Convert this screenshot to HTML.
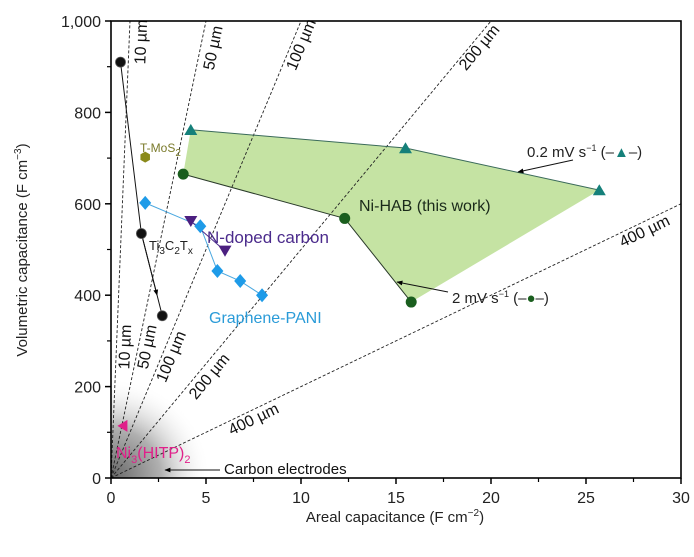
<!DOCTYPE html>
<html><head><meta charset="utf-8"><style>
body{margin:0;background:#fff}
svg text{font-family:"Liberation Sans",sans-serif}
</style></head><body>
<svg id="c" width="694" height="552" viewBox="0 0 694 552" xmlns="http://www.w3.org/2000/svg">
<defs>
<radialGradient id="gr" cx="111" cy="478" r="100" gradientUnits="userSpaceOnUse">
<stop offset="0" stop-color="#666"/><stop offset="0.5" stop-color="#b0b0b0"/><stop offset="1" stop-color="#fff" stop-opacity="0"/></radialGradient>
<marker id="ah" viewBox="0 0 10 10" refX="9" refY="5" markerWidth="8" markerHeight="6" orient="auto"><path d="M0,1L10,5L0,9z" fill="#000"/></marker>
</defs>
<g id="plot"></g>
</svg>
<script>
const xTicks=[0,5,10,15,20,25,30];
const yTicks=[0,200,400,600,800,1000];
const thickLabels=["10 µm","50 µm","100 µm","200 µm","400 µm"];
const thicknessUm=[10,50,100,200,400];
const lineSlopes=[1000,200,100,50,20];
const hab02X=[4.2,15.5,25.7];
const hab02Y=[762,722,630];
const hab2X=[3.8,12.3,15.8];
const hab2Y=[665,568,385];
const tiX=[0.5,1.6,2.7];
const tiY=[910,535,355];
const paniX=[1.8,4.7,5.6,6.8,7.95];
const paniY=[602,551,453,431,400];
const ndX=[4.2,6.0];
const ndY=[562,497];
const mosX=[1.8];const mosY=[702];
const hitpX=[0.6];const hitpY=[114];

const X0=111,Y0=478,SX=19,SY=0.457;
const xs=v=>X0+v*SX, ys=v=>Y0-v*SY;
const NS="http://www.w3.org/2000/svg";
const g=document.getElementById('plot');
function mk(t,a,txt){const e=document.createElementNS(NS,t);for(const k in a)e.setAttribute(k,a[k]);if(txt!=null)e.textContent=txt;g.appendChild(e);return e;}

let gz=mk('path',{d:`M${X0},${Y0}L${X0},${Y0-100}A100,100 0 0 1 ${X0+100},${Y0}Z`,fill:'url(#gr)'});



let pts=[];for(let i=0;i<3;i++)pts.push(xs(hab02X[i])+','+ys(hab02Y[i]));
for(let i=2;i>=0;i--)pts.push(xs(hab2X[i])+','+ys(hab2Y[i]));
let poly=mk('polygon',{points:pts.join(' '),fill:'#c5e3a3'});



const clipR=xs(30), clipT=ys(1000);
thicknessUm.forEach((t,i)=>{
  const k=lineSlopes[i];
  let ax=30, vy=k*30; if(vy>1000){vy=1000;ax=1000/k;}
  let l=mk('line',{x1:X0,y1:Y0,x2:xs(ax),y2:ys(vy),stroke:'#222','stroke-width':0.9,'stroke-dasharray':'3,2'});
  
  
});
const ang=lineSlopes.map(k=>-Math.atan(k*SY/SX)*180/Math.PI);
const topPos=[[142,42],[214,48],[302,45],[480,48],[645,232]];
const botPos=[[126,347],[148,347],[172,357],[210,377],[254,420]];
[topPos,botPos].forEach((P,j)=>P.forEach((p,i)=>{
  let tx=mk('text',{x:p[0],y:p[1],'font-size':16,'text-anchor':'middle','dominant-baseline':'middle',fill:'#111',transform:`rotate(${ang[i]} ${p[0]} ${p[1]})`},thickLabels[i]);
  
  
}));

let fr=mk('rect',{x:X0,y:clipT,width:clipR-X0,height:Y0-clipT,fill:'none',stroke:'#000','stroke-width':1.6});


xTicks.forEach(v=>{
  mk('line',{x1:xs(v),y1:Y0,x2:xs(v),y2:Y0+6,stroke:'#000','stroke-width':1.5});
  if(v<30)mk('line',{x1:xs(v+2.5),y1:Y0,x2:xs(v+2.5),y2:Y0+4,stroke:'#000','stroke-width':1.2});
  let t=mk('text',{x:xs(v),y:Y0+25,'font-size':16,'text-anchor':'middle',fill:'#222'},v);
  
  
});
yTicks.forEach(v=>{
  mk('line',{x1:X0-6,y1:ys(v),x2:X0,y2:ys(v),stroke:'#000','stroke-width':1.5});
  if(v<1000)mk('line',{x1:X0-4,y1:ys(v+100),x2:X0,y2:ys(v+100),stroke:'#000','stroke-width':1.2});
  let t=mk('text',{x:X0-10,y:ys(v)+6,'font-size':16,'text-anchor':'end',fill:'#222'},v.toLocaleString('en-US'));
  
  
});
let xt=mk('text',{x:395,y:522,'font-size':15,'text-anchor':'middle',fill:'#222'});
xt.innerHTML='Areal capacitance (F cm<tspan dy="-6" font-size="10">−2</tspan><tspan dy="6">)</tspan>';


let yt=mk('text',{x:0,y:0,'font-size':15,'text-anchor':'middle',fill:'#222',transform:'translate(27,250) rotate(-90)'});
yt.innerHTML='Volumetric capacitance (F cm<tspan dy="-6" font-size="10">−3</tspan><tspan dy="6">)</tspan>';



function polyline(X,Y,col,w,name){
  let l=mk('polyline',{points:X.map((x,i)=>xs(x)+','+ys(Y[i])).join(' '),fill:'none',stroke:col,'stroke-width':w});
  
  
}
polyline(hab02X,hab02Y,'#3a6a5a',1,'ni-hab-02-line');
polyline(hab2X,hab2Y,'#2a3a2a',1,'ni-hab-2-line');
polyline(paniX,paniY,'#4aa8e0',1,'graphene-pani-line');
polyline(ndX,ndY,'#4b2b8c',1,'n-doped-line');
polyline(tiX,tiY,'#111',1,'ti3c2tx-line');
{
  const x1=xs(tiX[1]),y1=ys(tiY[1]),x2=xs(tiX[2]),y2=ys(tiY[2]);
  let a=mk('line',{x1:x1,y1:y1,x2:x1+(x2-x1)*0.75,y2:y1+(y2-y1)*0.75,stroke:'#111','stroke-width':1,'marker-end':'url(#ah)'});
  
  
}
function tri(x,y,s,col,down){return down?`${x-s},${y-s*0.8} ${x+s},${y-s*0.8} ${x},${y+s*0.9}`:`${x-s},${y+s*0.8} ${x+s},${y+s*0.8} ${x},${y-s*0.9}`;}
hab02X.forEach((v,i)=>{let p=mk('polygon',{points:tri(xs(v),ys(hab02Y[i]),6.5),fill:'#15807a'});
  
  });
hab2X.forEach((v,i)=>{let p=mk('circle',{cx:xs(v),cy:ys(hab2Y[i]),r:5.5,fill:'#1a5e1e'});
  
  });
tiX.forEach((v,i)=>{let p=mk('circle',{cx:xs(v),cy:ys(tiY[i]),r:5,fill:'#111',stroke:'#555','stroke-width':0.8});
  
  });
paniX.forEach((v,i)=>{const x=xs(v),y=ys(paniY[i]);let p=mk('polygon',{points:`${x},${y-7} ${x+6},${y} ${x},${y+7} ${x-6},${y}`,fill:'#1e9be8'});
  
  });
ndX.forEach((v,i)=>{let p=mk('polygon',{points:tri(xs(v),ys(ndY[i]),6.5,0,true),fill:'#4b1f80'});
  
  });
mosX.forEach((v,i)=>{const x=xs(v),y=ys(mosY[i]),r=5.5;let q=[];for(let k=0;k<6;k++){const a=Math.PI/6+k*Math.PI/3;q.push((x+r*Math.cos(a))+','+(y+r*Math.sin(a)));}
  let p=mk('polygon',{points:q.join(' '),fill:'#8a8a1a'});
  
  });
hitpX.forEach((v,i)=>{const x=xs(v),y=ys(hitpY[i]);let p=mk('polygon',{points:`${x+5},${y-6} ${x+5},${y+6} ${x-5},${y}`,fill:'#e0208a'});
  
  });

function label(x,y,html,col,size,name){let t=mk('text',{x:x,y:y,'font-size':size,fill:col});t.innerHTML=html;
  
  return t;}
label(359,211,'Ni-HAB (this work)','#1a2a1a',16,'ni-hab-label');
label(207,243,'N-doped carbon','#4b2b8c',17,'n-doped-carbon-label');
label(209,323,'Graphene-PANI','#2a9bd8',16,'graphene-pani-label');
label(140,152,'T-MoS<tspan dy="4" font-size="10">2</tspan>','#7a7a2a',12,'t-mos2-label');
label(149,250,'Ti<tspan dy="4" font-size="10">3</tspan><tspan dy="-4">C</tspan><tspan dy="4" font-size="10">2</tspan><tspan dy="-4">T</tspan><tspan dy="4" font-size="10">x</tspan>','#222',13,'ti3c2tx-label');
label(116,458,'Ni<tspan dy="5" font-size="11">3</tspan><tspan dy="-5">(HITP)</tspan><tspan dy="5" font-size="11">2</tspan>','#e0208a',16,'ni3hitp2-label');
label(224,474,'Carbon electrodes','#111',15,'carbon-electrodes-label');
label(527,157,'0.2 mV s<tspan dy="-6" font-size="9">−1</tspan><tspan dy="6"> (–</tspan><tspan fill="#15807a">▲</tspan>–)','#222',15,'legend-0-2-mv');
label(452,303,'2 mV s<tspan dy="-6" font-size="9">−1</tspan><tspan dy="6"> (–</tspan><tspan fill="#1a5e1e">●</tspan>–)','#222',15,'legend-2-mv');
[[220,470,165,470],[573,160,518,172],[448,292,397,282]].forEach((a,i)=>{
  let l=mk('line',{x1:a[0],y1:a[1],x2:a[2],y2:a[3],stroke:'#111','stroke-width':1,'marker-end':'url(#ah)'});
  
  
});
</script>
</body></html>
